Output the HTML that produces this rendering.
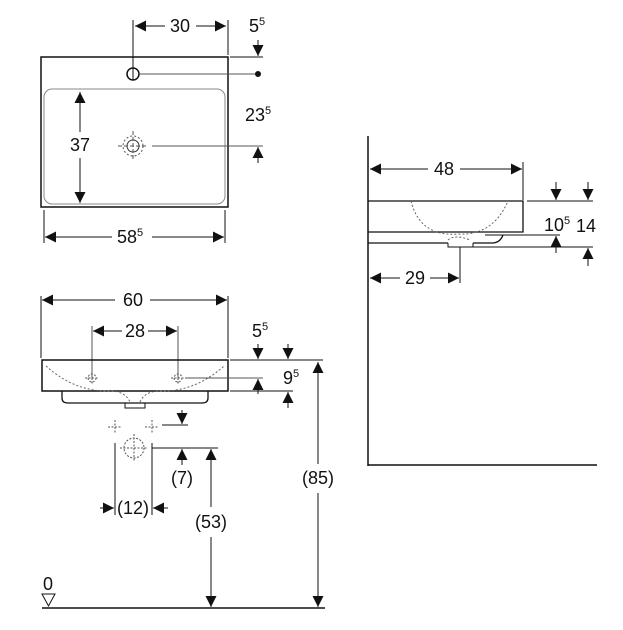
<!DOCTYPE html>
<html><head><style>
html,body{margin:0;padding:0;background:#fff;}
svg{display:block;}
text{font-family:"Liberation Sans",sans-serif;font-size:18px;fill:#111;}
.s{font-size:11px;}
</style></head><body>
<svg width="623" height="630" viewBox="0 0 623 630" xmlns="http://www.w3.org/2000/svg">
<defs>
<marker id="a" viewBox="0 0 10 10" refX="10" refY="5" markerWidth="11" markerHeight="11" markerUnits="userSpaceOnUse" orient="auto-start-reverse"><path d="M0,0L10,5L0,10z" fill="#111"/></marker>
</defs>
<g stroke="#111" stroke-width="1" fill="none">
<rect x="41" y="57" width="187" height="150" stroke-width="1.5"/>
<rect x="44" y="89" width="181" height="115" rx="8" stroke="#888"/>
<circle cx="133" cy="74" r="6" stroke-width="1.5"/>
<line x1="133" y1="20" x2="133" y2="80"/>
<line x1="228" y1="20" x2="228" y2="55"/>
<line x1="135" y1="26" x2="165" y2="26" marker-start="url(#a)"/>
<line x1="196" y1="26" x2="226" y2="26" marker-end="url(#a)"/>
<line x1="230" y1="57" x2="263" y2="57"/>
<line x1="258" y1="40" x2="258" y2="56" marker-end="url(#a)"/>
<line x1="140" y1="74" x2="258" y2="74" stroke="#555"/>
<circle cx="258" cy="74" r="2.5" fill="#111"/>
<circle cx="133" cy="146" r="10" stroke-dasharray="2,2" stroke="#555"/>
<circle cx="133" cy="146" r="6" stroke="#333"/>
<line x1="118" y1="146" x2="148" y2="146" stroke-dasharray="4,2" stroke="#555"/>
<line x1="133" y1="131" x2="133" y2="161" stroke-dasharray="4,2" stroke="#555"/>
<line x1="152" y1="146" x2="263" y2="146" stroke="#555"/>
<line x1="258" y1="163" x2="258" y2="147" marker-end="url(#a)"/>
<line x1="80" y1="92" x2="80" y2="132" marker-start="url(#a)"/>
<line x1="80" y1="158" x2="80" y2="203" marker-end="url(#a)"/>
<line x1="44" y1="210" x2="44" y2="243"/>
<line x1="225" y1="210" x2="225" y2="243"/>
<line x1="45" y1="237" x2="112" y2="237" marker-start="url(#a)"/>
<line x1="152" y1="237" x2="224" y2="237" marker-end="url(#a)"/>

<line x1="41" y1="296" x2="41" y2="358"/>
<line x1="228" y1="296" x2="228" y2="358"/>
<line x1="42" y1="300" x2="115" y2="300" marker-start="url(#a)"/>
<line x1="150" y1="300" x2="227" y2="300" marker-end="url(#a)"/>
<line x1="92" y1="326" x2="92" y2="378" stroke="#555"/>
<line x1="178" y1="326" x2="178" y2="378" stroke="#555"/>
<line x1="93" y1="331" x2="122" y2="331" marker-start="url(#a)"/>
<line x1="148" y1="331" x2="177" y2="331" marker-end="url(#a)"/>
<path d="M42,360H228V391H42Z" stroke-width="1.5"/>
<path d="M62,391V398Q62,403 68,403H202Q208,403 208,398V391" stroke-width="1.3"/>
<path d="M125,403V408H145V403"/>
<path d="M46,366Q75,392 110,391Q125,391 130,402M140,402Q145,391 160,391Q195,392 224,366" stroke-dasharray="2,2" stroke="#666"/>
<g stroke="#555" stroke-dasharray="2,1.5">
<circle cx="92" cy="378" r="4"/><line x1="85" y1="378" x2="99" y2="378"/><line x1="92" y1="371" x2="92" y2="385"/>
<circle cx="178" cy="378" r="4"/><line x1="171" y1="378" x2="185" y2="378"/><line x1="178" y1="371" x2="178" y2="385"/>
<line x1="108" y1="427" x2="122" y2="427"/><line x1="115" y1="420" x2="115" y2="434"/>
<line x1="145" y1="427" x2="159" y2="427"/><line x1="152" y1="420" x2="152" y2="434"/>
<circle cx="134" cy="448" r="10"/><line x1="120" y1="448" x2="148" y2="448"/><line x1="134" y1="434" x2="134" y2="462"/>
</g>
<line x1="230" y1="360" x2="323" y2="360"/>
<line x1="258" y1="344" x2="258" y2="359" marker-end="url(#a)"/>
<line x1="288" y1="344" x2="288" y2="359" marker-end="url(#a)"/>
<line x1="185" y1="378" x2="263" y2="378" stroke="#555"/>
<line x1="258" y1="394" x2="258" y2="379" marker-end="url(#a)"/>
<line x1="230" y1="391" x2="293" y2="391"/>
<line x1="288" y1="408" x2="288" y2="392" marker-end="url(#a)"/>
<line x1="162" y1="425" x2="188" y2="425"/>
<line x1="182" y1="410" x2="182" y2="424" marker-end="url(#a)"/>
<line x1="152" y1="448" x2="218" y2="448"/>
<line x1="182" y1="465" x2="182" y2="449" marker-end="url(#a)"/>
<line x1="115" y1="443" x2="115" y2="515"/>
<line x1="152" y1="443" x2="152" y2="515"/>
<line x1="100" y1="508" x2="114" y2="508" marker-end="url(#a)"/>
<line x1="168" y1="508" x2="153" y2="508" marker-end="url(#a)"/>
<line x1="211" y1="449" x2="211" y2="507" marker-start="url(#a)"/>
<line x1="211" y1="537" x2="211" y2="607" marker-end="url(#a)"/>
<line x1="318" y1="362" x2="318" y2="464" marker-start="url(#a)"/>
<line x1="318" y1="493" x2="318" y2="607" marker-end="url(#a)"/>
<line x1="42" y1="608" x2="325" y2="608" stroke-width="1.5"/>
<path d="M42,594H55L48.5,606Z"/>

<line x1="368" y1="136" x2="368" y2="466" stroke-width="1.5"/>
<line x1="368" y1="465" x2="597" y2="465" stroke-width="1.5"/>
<line x1="523" y1="162" x2="523" y2="200"/>
<line x1="370" y1="169" x2="428" y2="169" marker-start="url(#a)"/>
<line x1="460" y1="169" x2="522" y2="169" marker-end="url(#a)"/>
<path d="M368,201H523V232H368" stroke-width="1.3"/>
<path d="M368,243H448M473,243H492Q500,243 503,235" stroke-width="1.3"/>
<path d="M448,243V247H473V243"/>
<path d="M411,201Q420,237 458,234Q493,236 508,201" stroke-dasharray="2,2" stroke="#666"/>
<path d="M448,240Q455,234 470,240" stroke-dasharray="2,2" stroke="#666"/>
<line x1="527" y1="201" x2="593" y2="201"/>
<line x1="556" y1="182" x2="556" y2="200" marker-end="url(#a)"/>
<line x1="588" y1="182" x2="588" y2="200" marker-end="url(#a)"/>
<line x1="485" y1="235" x2="560" y2="235"/>
<line x1="556" y1="253" x2="556" y2="236" marker-end="url(#a)"/>
<line x1="473" y1="247" x2="593" y2="247"/>
<line x1="588" y1="266" x2="588" y2="248" marker-end="url(#a)"/>
<line x1="460" y1="247" x2="460" y2="283"/>
<line x1="370" y1="278" x2="400" y2="278" marker-start="url(#a)"/>
<line x1="430" y1="278" x2="459" y2="278" marker-end="url(#a)"/>
</g>
<text x="180" y="32" text-anchor="middle">30</text>
<text x="249" y="32">5<tspan class="s" dy="-7">5</tspan></text>
<text x="245" y="121">23<tspan class="s" dy="-7">5</tspan></text>
<text x="80" y="151" text-anchor="middle">37</text>
<text x="117" y="243">58<tspan class="s" dy="-7">5</tspan></text>
<text x="133" y="306" text-anchor="middle">60</text>
<text x="135" y="337" text-anchor="middle">28</text>
<text x="252" y="337">5<tspan class="s" dy="-7">5</tspan></text>
<text x="283" y="384">9<tspan class="s" dy="-7">5</tspan></text>
<text x="182" y="484" text-anchor="middle">(7)</text>
<text x="133" y="514" text-anchor="middle">(12)</text>
<text x="211" y="528" text-anchor="middle">(53)</text>
<text x="318" y="484" text-anchor="middle">(85)</text>
<text x="48" y="590" text-anchor="middle">0</text>
<text x="444" y="175" text-anchor="middle">48</text>
<text x="544" y="231">10<tspan class="s" dy="-7">5</tspan></text>
<text x="576" y="232">14</text>
<text x="415" y="284" text-anchor="middle">29</text>
</svg>
</body></html>
